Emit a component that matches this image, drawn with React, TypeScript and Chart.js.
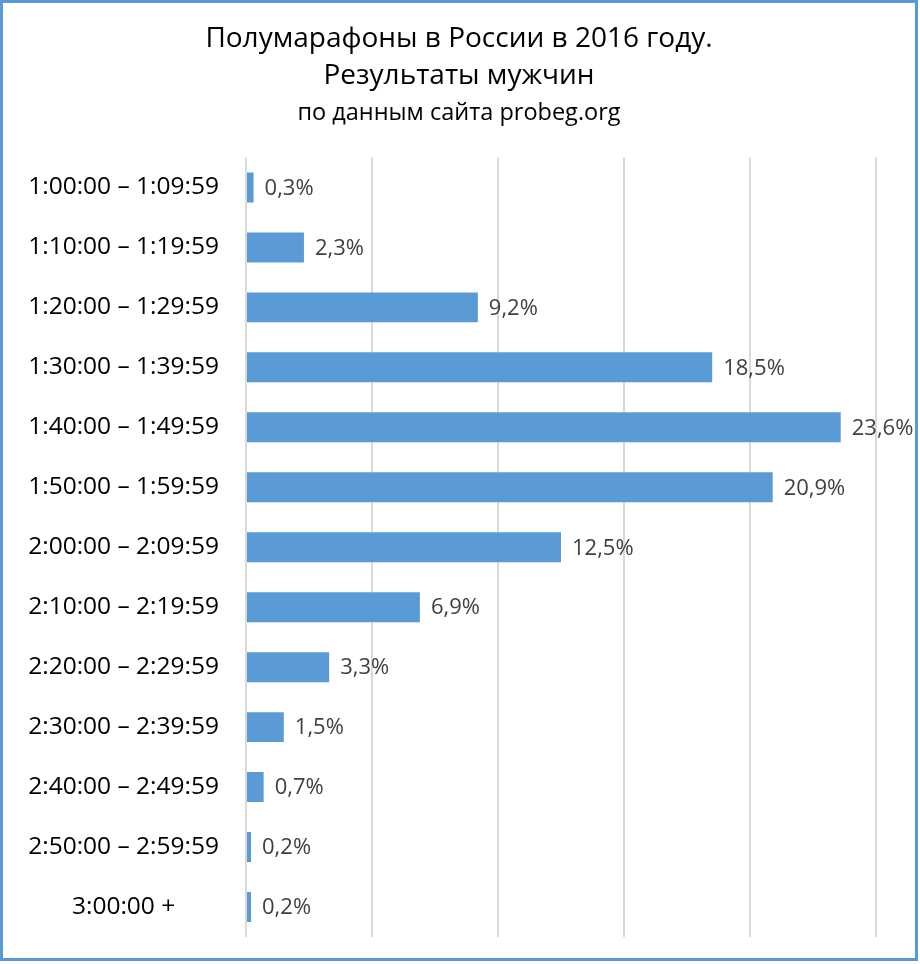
import React, { useEffect, useRef } from "react";
import { Chart, registerables } from "chart.js";

Chart.register(...registerables);

const categories = [
  "1:00:00 – 1:09:59",
  "1:10:00 – 1:19:59",
  "1:20:00 – 1:29:59",
  "1:30:00 – 1:39:59",
  "1:40:00 – 1:49:59",
  "1:50:00 – 1:59:59",
  "2:00:00 – 2:09:59",
  "2:10:00 – 2:19:59",
  "2:20:00 – 2:29:59",
  "2:30:00 – 2:39:59",
  "2:40:00 – 2:49:59",
  "2:50:00 – 2:59:59",
  "3:00:00 +",
];

const shares = [0.3, 2.3, 9.2, 18.5, 23.6, 20.9, 12.5, 6.9, 3.3, 1.5, 0.7, 0.2, 0.2];

const titleLines = ["Полумарафоны в России в 2016 году.", "Результаты мужчин"];
const subtitleText = "по данным сайта probeg.org";

const FONT = "'Open Sans', sans-serif";

const valueLabels = {
  id: "valueLabels",
  afterDatasetsDraw(chart: any) {
    const ctx = chart.ctx;
    const meta = chart.getDatasetMeta(0);
    ctx.save();
    ctx.font = `22px ${FONT}`;
    ctx.fillStyle = "#404040";
    ctx.textAlign = "left";
    ctx.textBaseline = "middle";
    meta.data.forEach((bar: any, i: number) => {
      const v = shares[i];
      const txt = v.toFixed(1).replace(".", ",") + "%";
      ctx.fillText(txt, bar.x + 11, bar.y + 1);
    });
    ctx.restore();
  },
};

export default function App() {
  const ref = useRef<HTMLCanvasElement>(null);

  useEffect(() => {
    document.body.style.margin = "0";
    const chart = new Chart(ref.current!, {
      type: "bar",
      data: {
        labels: categories,
        datasets: [
          {
            data: shares,
            backgroundColor: "#5b9bd5",
            borderColor: "#5b9bd5",
            borderWidth: 0,
            categoryPercentage: 1,
            barPercentage: 0.5,
          },
        ],
      },
      options: {
        indexAxis: "y",
        animation: false,
        responsive: true,
        maintainAspectRatio: false,
        layout: { padding: { left: 0, right: 0, top: 0, bottom: 21 } },
        plugins: {
          legend: { display: false },
          tooltip: { enabled: false },
          title: {
            display: true,
            text: titleLines,
            color: "#000",
            font: { family: FONT, size: 28, weight: "normal", lineHeight: 1.32 },
            padding: { top: 18, bottom: 0 },
          },
          subtitle: {
            display: true,
            text: subtitleText,
            color: "#000",
            font: { family: FONT, size: 23.5, weight: "normal", lineHeight: 1.3 },
            padding: { top: 3, bottom: 29 },
          },
        },
        scales: {
          x: {
            min: 0,
            max: 25,
            ticks: { display: false, stepSize: 5, padding: 0 },
            grid: { color: "#d9d9d9", lineWidth: 2, drawTicks: false },
            border: { display: false },
          },
          y: {
            ticks: {
              color: "#000",
              font: { family: FONT, size: 24.5 },
              crossAlign: "center",
              padding: 27,
            },
            grid: { display: false, drawTicks: false },
            border: { display: false },
            afterFit: (s: any) => {
              s.width = 243;
              s.paddingTop = 0;
              s.paddingBottom = 0;
            },
          },
          yRightSpace: {
            type: "category",
            axis: "y",
            position: "right",
            display: true,
            ticks: { display: false },
            grid: { display: false, drawTicks: false },
            border: { display: false },
            afterFit: (s: any) => {
              s.width = 39;
              s.paddingTop = 0;
              s.paddingBottom = 0;
            },
          },
        },
      },
      plugins: [valueLabels],
    });
    return () => chart.destroy();
  }, []);

  return (
    <div
      style={{
        position: "absolute",
        left: 0,
        top: 0,
        width: 918,
        height: 961,
        border: "3px solid #5b9bd5",
        boxSizing: "border-box",
        background: "#fff",
      }}
    >
      <div style={{ position: "relative", width: 912, height: 955 }}>
        <canvas ref={ref} />
      </div>
    </div>
  );
}
